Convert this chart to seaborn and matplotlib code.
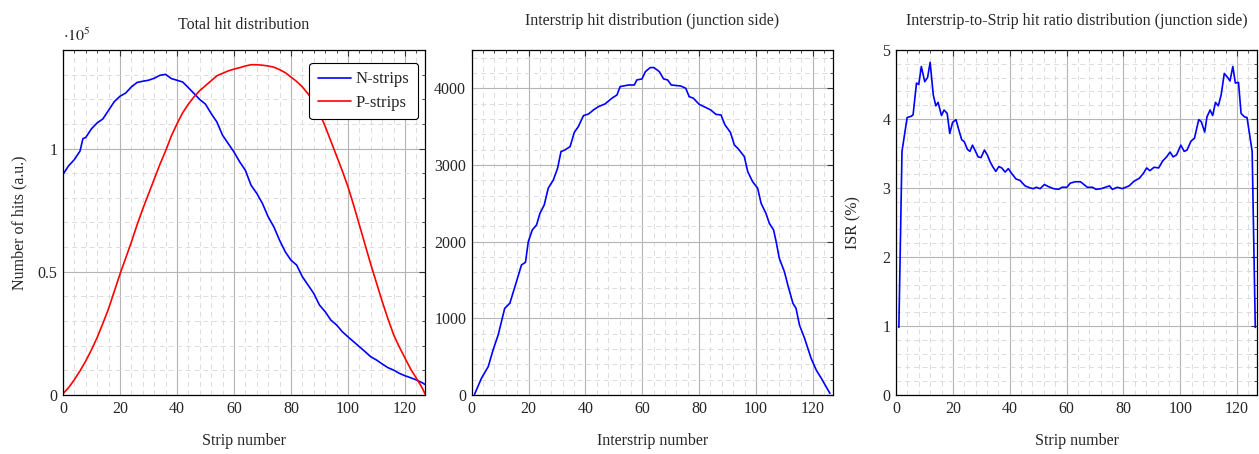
import matplotlib
matplotlib.use("Agg")
import matplotlib.pyplot as plt
import seaborn as sns
from matplotlib.ticker import MultipleLocator, FuncFormatter

# Total hit distribution (values in units of 1e5)
n_strip_x = [0, 2, 4, 6, 7, 8, 10, 12, 14, 16, 18, 20, 22, 24, 26, 28, 30, 32, 34, 36,
             38, 40, 42, 44, 46, 48, 50, 52, 54, 56, 58, 60, 62, 64, 66, 68, 70, 72, 74,
             76, 78, 80, 82, 84, 86, 88, 90, 92, 94, 96, 98, 100, 102, 104, 106, 108,
             110, 112, 114, 116, 118, 120, 122, 124, 126, 127]
n_strip_hits = [0.895, 0.93, 0.955, 0.99, 1.04, 1.045, 1.08, 1.104, 1.12, 1.155, 1.19,
                1.212, 1.225, 1.25, 1.268, 1.273, 1.277, 1.285, 1.297, 1.301, 1.284,
                1.277, 1.27, 1.247, 1.223, 1.199, 1.18, 1.142, 1.108, 1.054, 1.02, 0.986,
                0.946, 0.912, 0.851, 0.818, 0.777, 0.723, 0.682, 0.628, 0.581, 0.547,
                0.527, 0.48, 0.446, 0.412, 0.365, 0.338, 0.304, 0.284, 0.257, 0.236,
                0.216, 0.196, 0.176, 0.155, 0.142, 0.126, 0.111, 0.101, 0.088, 0.078,
                0.070, 0.061, 0.050, 0.043]
p_strip_x = [0, 2, 4, 6, 8, 10, 12, 14, 16, 18, 20, 22, 24, 26, 28, 30, 32, 34, 36, 38,
             40, 42, 44, 46, 48, 50, 52, 54, 56, 58, 60, 62, 64, 66, 68, 70, 72, 74, 76,
             78, 80, 82, 84, 86, 88, 90, 92, 94, 96, 98, 100, 102, 104, 106, 108, 110,
             112, 114, 116, 118, 120, 122, 124, 126, 127]
p_strip_hits = [0.005, 0.03, 0.062, 0.098, 0.138, 0.183, 0.233, 0.29, 0.35, 0.42, 0.49,
                0.555, 0.62, 0.69, 0.755, 0.815, 0.875, 0.935, 0.99, 1.05, 1.10, 1.145,
                1.18, 1.21, 1.235, 1.255, 1.275, 1.295, 1.305, 1.315, 1.322, 1.328,
                1.335, 1.34, 1.34, 1.338, 1.335, 1.33, 1.32, 1.308, 1.29, 1.272, 1.25,
                1.222, 1.19, 1.145, 1.09, 1.03, 0.97, 0.91, 0.845, 0.77, 0.69, 0.61,
                0.53, 0.455, 0.38, 0.31, 0.245, 0.195, 0.15, 0.105, 0.068, 0.03, 0.005]

# Interstrip hit distribution
inter_x = [1, 3.4, 5.8, 7.5, 9.3, 11.6, 13.4, 15.2, 17.5, 18.9, 19.9, 21.3, 22.8, 24.0,
           25.5, 26.9, 28.7, 30.2, 31.4, 32.8, 34.6, 36.1, 37.5, 39.3, 41.1, 42.8, 44.6,
           46.9, 49.3, 51.1, 52.2, 55.2, 57.2, 58.1, 59.9, 61.1, 62.8, 64.1, 66.0, 67.5,
           68.9, 70.2, 73.5, 75.3, 76.5, 78.0, 80.0, 82.4, 84.1, 85.9, 87.7, 89.1, 91.0,
           92.4, 93.8, 95.9, 97.1, 98.8, 100.6, 101.8, 103.5, 104.7, 106.2, 107.1, 108.2,
           110.0, 111.2, 113.0, 114.1, 115.3, 117.1, 119.4, 121.2, 123.0, 126.0]
inter_hits = [10, 217, 370, 587, 783, 1130, 1196, 1413, 1696, 1730, 2000, 2152, 2217,
              2370, 2478, 2696, 2804, 2957, 3174, 3196, 3239, 3426, 3500, 3643, 3665,
              3717, 3761, 3796, 3870, 3913, 4022, 4043, 4043, 4109, 4122, 4217, 4270,
              4270, 4217, 4122, 4109, 4043, 4030, 4000, 3891, 3870, 3791, 3748, 3717,
              3660, 3652, 3522, 3426, 3261, 3209, 3109, 2913, 2783, 2696, 2500, 2370,
              2239, 2152, 2000, 1783, 1609, 1435, 1196, 1130, 913, 739, 478, 326, 217, 22]

# Interstrip-to-Strip hit ratio (%)
isr_x = [1, 2.1, 3.9, 5.4, 6.0, 7.2, 8.0, 8.9, 10.1, 11.1, 12.0, 13.1, 14.0, 14.8, 16.0,
         16.9, 18.0, 18.9, 19.9, 21.1, 22.1, 23.1, 24.0, 25.1, 26.0, 26.9, 28.1, 28.9,
         29.9, 31.1, 32.1, 33.1, 34.0, 35.1, 36.2, 37.2, 38.4, 39.5, 40.7, 42.2, 43.6,
         45.4, 47.2, 48.4, 49.3, 50.7, 52.2, 53.6, 55.4, 57.2, 58.4, 60.1, 61.3, 63.1,
         64.9, 66.1, 67.3, 69.1, 70.4, 72.2, 75.1, 76.1, 77.9, 79.6, 82.0, 83.8, 85.6,
         87.0, 88.2, 89.3, 90.8, 92.4, 93.8, 95.2, 96.4, 97.5, 98.7, 100.2, 101.4, 102.4,
         103.8, 105.0, 106.5, 107.4, 108.6, 109.4, 110.5, 111.4, 112.4, 113.4, 114.4,
         115.5, 116.7, 117.5, 118.5, 119.4, 120.5, 121.4, 122.6, 123.5, 125.3, 126.4]
isr_values = [0.98, 3.53, 4.02, 4.04, 4.06, 4.52, 4.50, 4.76, 4.54, 4.60, 4.82, 4.35,
              4.19, 4.24, 4.05, 4.13, 4.08, 3.79, 3.95, 3.99, 3.84, 3.70, 3.67, 3.56,
              3.53, 3.62, 3.52, 3.45, 3.44, 3.55, 3.48, 3.38, 3.31, 3.24, 3.31, 3.29,
              3.23, 3.28, 3.21, 3.13, 3.11, 3.03, 3.00, 2.99, 3.01, 2.99, 3.05, 3.02,
              2.99, 2.98, 3.01, 3.01, 3.07, 3.09, 3.09, 3.05, 3.01, 3.01, 2.98, 2.99,
              3.03, 2.98, 3.01, 2.99, 3.03, 3.10, 3.14, 3.21, 3.29, 3.25, 3.30, 3.29,
              3.39, 3.45, 3.52, 3.45, 3.48, 3.62, 3.53, 3.55, 3.68, 3.72, 3.99, 3.96,
              3.81, 4.03, 4.13, 4.05, 4.24, 4.19, 4.35, 4.66, 4.60, 4.55, 4.76, 4.52,
              4.53, 4.08, 4.03, 4.02, 3.53, 0.98]

FS = 11.5


def style_axis(ax, ymax, ymajor, yminor):
    ax.set_xlim(0, 127)
    ax.set_ylim(0, ymax)
    ax.xaxis.set_major_locator(MultipleLocator(20))
    ax.xaxis.set_minor_locator(MultipleLocator(4))
    ax.yaxis.set_major_locator(MultipleLocator(ymajor))
    ax.yaxis.set_minor_locator(MultipleLocator(yminor))
    ax.grid(which="major", color="#b4b4b4", linewidth=0.8, linestyle="-")
    ax.grid(which="minor", color="#dcdcdc", linewidth=0.7, linestyle=(0, (5, 4)))
    ax.set_axisbelow(True)
    ax.tick_params(which="both", direction="in", top=True, right=True,
                   labelsize=FS, color="#333333")
    ax.tick_params(which="major", length=4, width=0.8, pad=4)
    ax.tick_params(which="minor", length=2.5, width=0.6)
    for s in ax.spines.values():
        s.set_color("black")
        s.set_linewidth(0.9)


sns.set_style("white")
plt.rcParams["font.family"] = ["Liberation Serif", "DejaVu Serif"]
plt.rcParams["mathtext.fontset"] = "stix"

fig = plt.figure(figsize=(12.59, 4.54), dpi=100)
ax1 = fig.add_axes([0.050, 0.130, 0.2875, 0.760])
ax2 = fig.add_axes([0.3747, 0.130, 0.2867, 0.760])
ax3 = fig.add_axes([0.7117, 0.130, 0.2867, 0.760])

# Panel 1
sns.lineplot(x=n_strip_x, y=n_strip_hits, ax=ax1, color="#0000ff", linewidth=1.2,
             label="N-strips")
sns.lineplot(x=p_strip_x, y=p_strip_hits, ax=ax1, color="#ff0000", linewidth=1.2,
             label="P-strips")
style_axis(ax1, 1.4, 0.5, 0.1)
ax1.yaxis.set_major_formatter(FuncFormatter(lambda v, p: f"{v:g}"))
ax1.set_title("Total hit distribution", fontsize=FS, pad=15)
ax1.set_xlabel("Strip number", fontsize=FS, labelpad=12)
ax1.set_ylabel("Number of hits (a.u.)", fontsize=FS, labelpad=7)
ax1.text(0.0, 1.015, r"$\cdot 10^5$", transform=ax1.transAxes, fontsize=FS,
         ha="left", va="bottom")
leg = ax1.legend(loc="upper right", bbox_to_anchor=(0.981, 0.962), fontsize=12,
                 frameon=True, fancybox=True, framealpha=1, edgecolor="black",
                 handlelength=2.0, handletextpad=0.3, borderaxespad=0.0,
                 labelspacing=0.45, borderpad=0.5)
leg.get_frame().set_linewidth(0.8)

# Panel 2
sns.lineplot(x=inter_x, y=inter_hits, ax=ax2, color="#0000ff", linewidth=1.2)
style_axis(ax2, 4500, 1000, 200)
ax2.set_title("Interstrip hit distribution (junction side)", fontsize=FS, pad=18)
ax2.set_xlabel("Interstrip number", fontsize=FS, labelpad=12)
ax2.set_ylabel("")

# Panel 3
sns.lineplot(x=isr_x, y=isr_values, ax=ax3, color="#0000ff", linewidth=1.2)
style_axis(ax3, 5, 1, 0.2)
ax3.set_title("Interstrip-to-Strip hit ratio distribution (junction side)",
              fontsize=FS, pad=18)
ax3.set_xlabel("Strip number", fontsize=FS, labelpad=12)
ax3.set_ylabel("ISR (%)", fontsize=FS, labelpad=15)

fig.savefig("out.png", dpi=100)
